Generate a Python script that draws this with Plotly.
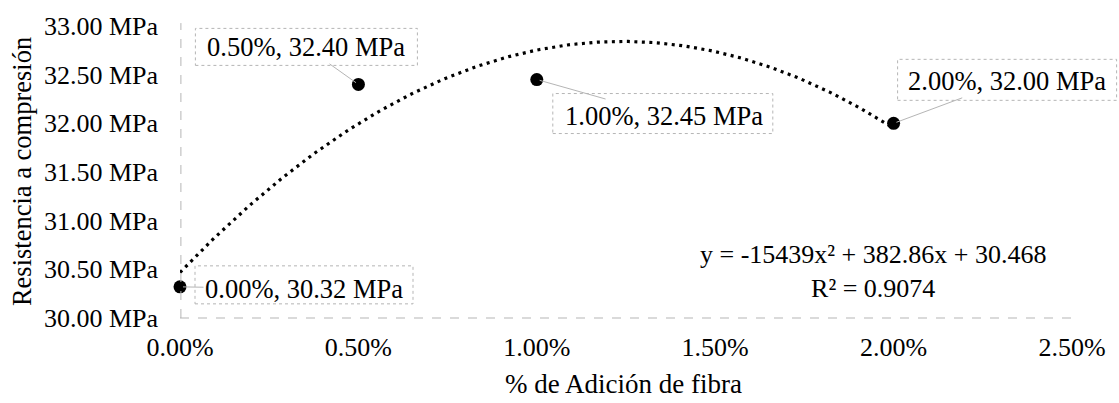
import numpy as np
import plotly.graph_objects as go

# Fibre addition (fraction) and compressive strength (MPa)
fibra = [0.0, 0.005, 0.01, 0.02]
resistencia = [30.32, 32.40, 32.45, 32.00]
etiquetas = ["0.00%, 30.32 MPa", "0.50%, 32.40 MPa", "1.00%, 32.45 MPa", "2.00%, 32.00 MPa"]

# Polynomial trendline (order 2) as reported
coef = [-15439, 382.86, 30.468]
r2 = 0.9074

x_range = [0, 0.025]
y_range = [30, 33]

FONT = "Liberation Serif"
GRIS = "#b5b5b5"

xt = np.linspace(fibra[0], fibra[-1], 200)
yt = np.polyval(coef, xt)

fig = go.Figure()
fig.add_trace(go.Scatter(x=xt, y=yt, mode="lines",
                         line=dict(color="black", width=3.2, dash="3px,4.5px"),
                         hoverinfo="skip", showlegend=False))
fig.add_trace(go.Scatter(x=fibra, y=resistencia, mode="markers",
                         marker=dict(color="black", size=13),
                         cliponaxis=False, showlegend=False))

# label placement: text offset (px) and box extents (px) relative to each point
text_off = [(124, 2), (-52, -37), (127, 36), (113, -42)]
box_off = [((15, 233), (-17, 21)), ((-163, 59), (19, 56)),
           ((16, 236), (-54, -14)), ((4, 223), (23, 64))]

def frac(v, rng):
    return (v - rng[0]) / (rng[1] - rng[0])

for xv, yv, lab, (ax, ay), ((bx0, bx1), (by0, by1)) in zip(fibra, resistencia, etiquetas, text_off, box_off):
    fig.add_annotation(x=xv, y=yv, xref="x", yref="y", text=lab, showarrow=True,
                       ax=ax, ay=ay, arrowhead=0, arrowwidth=1, arrowcolor=GRIS,
                       standoff=3, font=dict(family=FONT, size=26.5, color="black"))
    fig.add_shape(type="rect", xref="x domain", yref="y domain",
                  xsizemode="pixel", ysizemode="pixel",
                  xanchor=frac(xv, x_range), yanchor=frac(yv, y_range),
                  x0=bx0, x1=bx1, y0=by0, y1=by1,
                  line=dict(color=GRIS, width=1, dash="dot"), layer="below")

# trendline equation
fig.add_annotation(xref="paper", yref="paper", x=0.777, y=0.16, showarrow=False,
                   xanchor="center", yanchor="middle",
                   text=f"y = {coef[0]}x² + {coef[1]}x + {coef[2]}<br>R² = {r2}",
                   font=dict(family=FONT, size=26, color="black"), align="center")

# axis titles
fig.add_annotation(xref="paper", yref="paper", x=-0.177, y=0.5, textangle=-90,
                   xanchor="center", yanchor="middle",
                   text="Resistencia a compresión", showarrow=False,
                   font=dict(family=FONT, size=26.5, color="black"))
fig.add_annotation(xref="paper", yref="paper", x=0.497, y=-0.225,
                   xanchor="center", yanchor="middle",
                   text="% de Adición de fibra", showarrow=False,
                   font=dict(family=FONT, size=27, color="black"))

# faint dashed axis lines
fig.add_shape(type="line", xref="paper", yref="paper", x0=0.001, x1=0.001, y0=0, y1=1.01,
              line=dict(color=GRIS, width=1, dash="dash"))
fig.add_shape(type="line", xref="paper", yref="paper", x0=0, x1=1, y0=0, y1=0,
              line=dict(color=GRIS, width=1, dash="dash"))

fig.update_xaxes(range=x_range, dtick=0.005, tickformat=".2%", showgrid=False,
                 zeroline=False, showline=False, ticks="", ticklabelstandoff=11,
                 tickfont=dict(family=FONT, size=26, color="black"))
fig.update_yaxes(range=y_range, dtick=0.5, tickformat=".2f", ticksuffix=" MPa",
                 showgrid=False, zeroline=False, showline=False, ticks="",
                 ticklabelstandoff=21,
                 tickfont=dict(family=FONT, size=26, color="black"))

fig.update_layout(width=1119, height=403, margin=dict(l=180, r=47, t=22, b=85),
                  plot_bgcolor="white", paper_bgcolor="white", showlegend=False)

fig.write_html("out.html")
